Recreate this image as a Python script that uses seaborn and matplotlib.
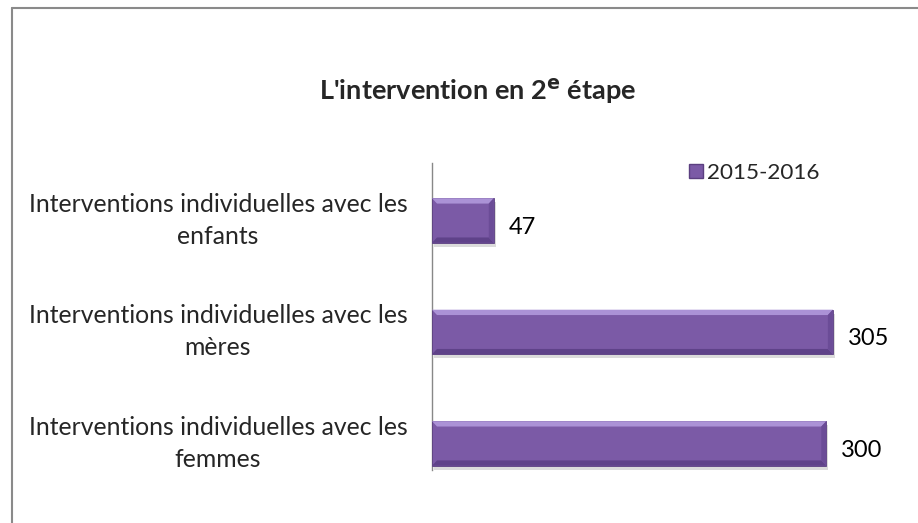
import matplotlib
matplotlib.use("Agg")
import matplotlib.pyplot as plt
import matplotlib.transforms as mtrans
import seaborn as sns
import pandas as pd
from matplotlib.patches import Rectangle, Polygon
from matplotlib.lines import Line2D

# data
categories = ["Interventions individuelles avec les\nenfants",
              "Interventions individuelles avec les\nmères",
              "Interventions individuelles avec les\nfemmes"]
values = [47, 305, 300]
series_name = "2015-2016"

df = pd.DataFrame({"cat": categories, "val": values})

sns.set_style("white")
plt.rcParams["font.family"] = ["Lato", "DejaVu Sans"]

fig = plt.figure(figsize=(9.18, 5.23), dpi=100)
ax = fig.add_axes([432 / 918, 1 - 470 / 523, 460 / 918, 307 / 523])

purple = "#7b5aa6"
sns.barplot(data=df, y="cat", x="val", orient="h", color=purple, width=0.4,
            saturation=1, edgecolor="#5b3f80", linewidth=0.6, ax=ax, zorder=3)

# bevel effect on each bar
for p in ax.patches:
    x0, y0 = p.get_x(), p.get_y()
    w, h = p.get_width(), p.get_height()
    dx = 5 / 1.315
    dy = h * 0.12
    # shadow
    ax.add_patch(Rectangle((x0 + 1.5, y0 + 0.035), w, h, color="#c4c4c4", alpha=0.6, zorder=2, lw=0))
    # top highlight (y axis inverted, y0 is top edge)
    ax.add_patch(Polygon([(x0, y0), (x0 + w, y0), (x0 + w - dx, y0 + dy), (x0 + dx, y0 + dy)],
                         closed=True, color="#ab92d6", lw=0, zorder=4))
    # bottom darker
    ax.add_patch(Polygon([(x0, y0 + h), (x0 + w, y0 + h), (x0 + w - dx, y0 + h - dy), (x0 + dx, y0 + h - dy)],
                         closed=True, color="#5f4289", lw=0, zorder=4))
    # right side
    ax.add_patch(Polygon([(x0 + w, y0), (x0 + w, y0 + h), (x0 + w - dx, y0 + h - dy), (x0 + w - dx, y0 + dy)],
                         closed=True, color="#6b4c97", lw=0, zorder=4))
    ax.text(x0 + w + 11.5, y0 + h / 2 + 0.06, f"{int(w)}", va="center", ha="left",
            fontsize=17, color="black")

ax.set_xlim(0, 350)
ax.set_ylim(2.238, -0.516)
ax.set_xlabel("")
ax.set_ylabel("")
ax.set_xticks([])
ax.tick_params(axis="y", length=0, pad=0, labelsize=17.8)
for lbl in ax.get_yticklabels():
    lbl.set_horizontalalignment("center")
    lbl.set_linespacing(1.45)
    lbl.set_transform(lbl.get_transform() + mtrans.ScaledTranslation(-2.14, 0.065, fig.dpi_scale_trans))

for s in ["top", "right", "bottom"]:
    ax.spines[s].set_visible(False)
ax.spines["left"].set_color("#888888")
ax.spines["left"].set_linewidth(1)

# legend
ax.legend(handles=[Rectangle((0, 0), 1, 1, facecolor=purple, edgecolor="#5b3f80")],
          labels=[series_name], loc="center left", bbox_to_anchor=(678 / 918, 1 - 173 / 523),
          bbox_transform=fig.transFigure, frameon=False, fontsize=16.2,
          handlelength=0.6, handleheight=0.6, handletextpad=0.2, borderpad=0)

fig.text(478 / 918, 1 - 91 / 523, r"L'intervention en 2$^{\mathbf{e}}$ étape", ha="center", va="center",
         fontsize=19.5, fontweight="bold")

# outer border (left and top edges visible)
fig.add_artist(Line2D([11.5 / 918, 11.5 / 918], [0, 1 - 8 / 523], transform=fig.transFigure,
                      color="#8a8a8a", linewidth=1.5))
fig.add_artist(Line2D([11.5 / 918, 1], [1 - 8 / 523, 1 - 8 / 523], transform=fig.transFigure,
                      color="#8a8a8a", linewidth=1.5))

fig.savefig("out.png", dpi=100)
